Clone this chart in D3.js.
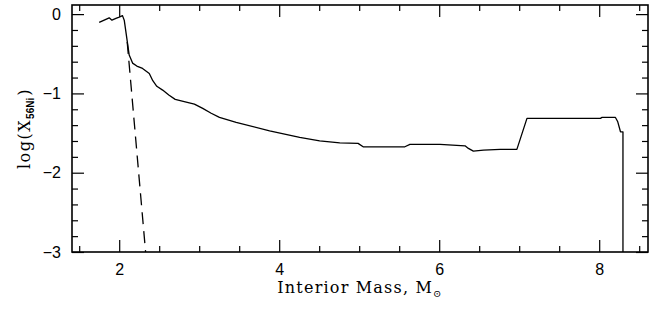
<!DOCTYPE html>
<html lang="en">
<head>
<meta charset="UTF-8">
<title>56Ni profile</title>
<style>
    body { margin: 0; background: #fff; }
</style>
</head>
<body>
<svg id="svgId"></svg>
<script src="https://cdn.jsdelivr.net/npm/d3@7/dist/d3.min.js"></script>
<script>

    // Solid curve: log(X_56Ni) vs interior mass
    const massSolid = [1.75, 1.875, 1.909, 1.959, 2.0, 2.041, 2.063, 2.125, 2.167, 2.22, 2.292, 2.376, 2.42, 2.47, 2.543,
        2.62, 2.70, 2.80, 2.94, 3.044, 3.15, 3.253, 3.462, 3.88, 4.256, 4.506, 4.757, 4.986, 5.049, 5.571, 5.634, 6.01,
        6.323, 6.365, 6.427, 6.553, 6.762, 6.971, 7.097, 8.015, 8.036, 8.203, 8.232, 8.266, 8.297, 8.297]
    const logSolid = [-0.105, -0.047, -0.076, -0.054, -0.038, -0.019, -0.076, -0.517, -0.618, -0.655, -0.685, -0.748,
        -0.84, -0.91, -0.958, -1.02, -1.075, -1.10, -1.135, -1.189, -1.25, -1.303, -1.366, -1.472, -1.555, -1.598,
        -1.623, -1.63, -1.673, -1.673, -1.643, -1.643, -1.661, -1.694, -1.728, -1.715, -1.706, -1.706, -1.315, -1.315,
        -1.303, -1.303, -1.358, -1.484, -1.484, -3.0]

    // Dashed curve
    const massDashed = [2.10, 2.33]
    const logDashed = [-0.35, -3.0]

    // Ticks
    const xMajor = [2, 4, 6, 8]
    const xMinor = [1.5, 2.5, 3, 3.5, 4.5, 5, 5.5, 6.5, 7, 7.5, 8.5]
    const yMajor = [0, -1, -2, -3]
    const yMinor = [-0.2, -0.4, -0.6, -0.8, -1.2, -1.4, -1.6, -1.8, -2.2, -2.4, -2.6, -2.8]

    const svgWidth = 660
    const svgHeight = 309
    const margin = {top: 5, right: 12, bottom: 57, left: 72}
    const width = svgWidth - margin.left - margin.right
    const height = svgHeight - margin.top - margin.bottom

    const root = d3.select('#svgId')
        .attr('width', svgWidth)
        .attr('height', svgHeight)
    const svg = root.append('g')
        .attr('transform', `translate(${margin.left},${margin.top})`)

    const xScale = d3.scaleLinear().domain([1.41, 8.61]).range([0, width])
    const yScale = d3.scaleLinear().domain([-3, 0.115]).range([height, 0])

    const tickFont = '"Liberation Sans", Arial, sans-serif'

    function styleAxis(g) {
        g.select('.domain').remove()
        g.selectAll('line').attr('stroke', '#000').attr('stroke-width', 1.2)
        g.selectAll('text').style('font-family', tickFont).style('font-size', '16px').attr('fill', '#000')
    }

    // bottom
    svg.append('g').attr('transform', `translate(0,${height})`)
        .call(d3.axisBottom(xScale).tickValues(xMajor).tickSize(-12).tickPadding(12).tickFormat(d3.format('d')))
        .call(styleAxis)
    svg.append('g').attr('transform', `translate(0,${height})`)
        .call(d3.axisBottom(xScale).tickValues(xMinor).tickSize(-6).tickFormat(''))
        .call(styleAxis)
    // top
    svg.append('g')
        .call(d3.axisTop(xScale).tickValues(xMajor).tickSize(-12).tickFormat(''))
        .call(styleAxis)
    svg.append('g')
        .call(d3.axisTop(xScale).tickValues(xMinor).tickSize(-6).tickFormat(''))
        .call(styleAxis)
    // left
    svg.append('g')
        .call(d3.axisLeft(yScale).tickValues(yMajor).tickSize(-12).tickPadding(11).tickFormat(d3.format('d')))
        .call(styleAxis)
    svg.append('g')
        .call(d3.axisLeft(yScale).tickValues(yMinor).tickSize(-6).tickFormat(''))
        .call(styleAxis)
    // right
    svg.append('g').attr('transform', `translate(${width},0)`)
        .call(d3.axisRight(yScale).tickValues(yMajor).tickSize(-12).tickFormat(''))
        .call(styleAxis)
    svg.append('g').attr('transform', `translate(${width},0)`)
        .call(d3.axisRight(yScale).tickValues(yMinor).tickSize(-6).tickFormat(''))
        .call(styleAxis)

    // frame
    svg.append('rect')
        .attr('width', width)
        .attr('height', height)
        .attr('fill', 'none')
        .attr('stroke', '#000')
        .attr('stroke-width', 1.6)

    const line = d3.line().x(d => xScale(d[0])).y(d => yScale(d[1]))

    svg.append('path')
        .datum(d3.zip(massSolid, logSolid))
        .attr('fill', 'none')
        .attr('stroke', '#000')
        .attr('stroke-width', 1.3)
        .attr('stroke-linejoin', 'round')
        .attr('d', line)

    svg.append('path')
        .datum(d3.zip(massDashed, logDashed))
        .attr('fill', 'none')
        .attr('stroke', '#000')
        .attr('stroke-width', 1.3)
        .attr('stroke-dasharray', '12,7')
        .attr('d', line)

    // axis titles
    const serif = '"DejaVu Serif", "Liberation Serif", serif'
    const xTitle = root.append('text')
        .attr('x', margin.left + width / 2)
        .attr('y', 293)
        .attr('text-anchor', 'middle')
        .style('font-family', serif)
        .style('font-size', '16px')
        .style('letter-spacing', '1.2px')
        .text('Interior Mass, M')
    xTitle.append('tspan')
        .attr('dy', 4)
        .style('font-size', '10px')
        .text('⊙')

    const yTitle = root.append('text')
        .attr('transform', `translate(30,${margin.top + height / 2}) rotate(-90)`)
        .attr('text-anchor', 'middle')
        .style('font-family', serif)
        .style('font-size', '16px')
        .style('letter-spacing', '1.5px')
        .text('log(X')
    yTitle.append('tspan')
        .attr('dy', 4)
        .style('font-family', tickFont)
        .style('font-weight', 'bold')
        .style('font-size', '10px')
        .style('letter-spacing', '0px')
        .text('56Ni')
    yTitle.append('tspan')
        .attr('dy', -4)
        .attr('dx', 2)
        .text(')')

</script>
</body>
</html>
